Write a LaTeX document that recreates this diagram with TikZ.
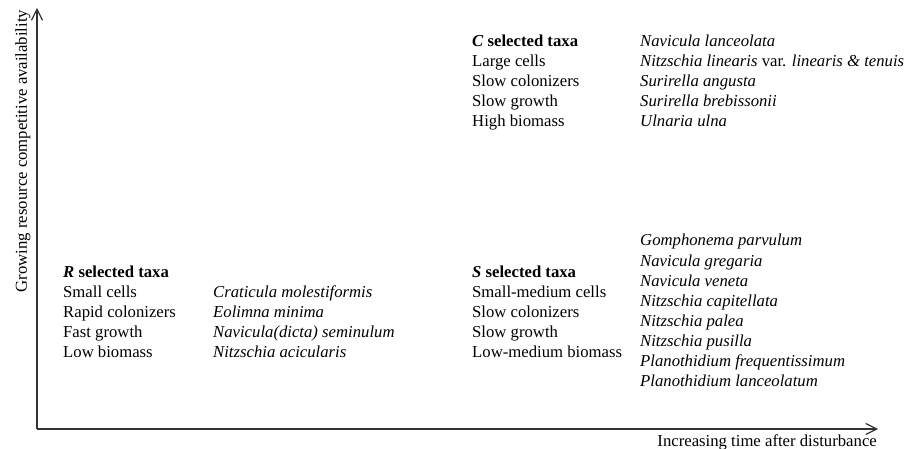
\documentclass[tikz,border=0pt]{standalone}
\usepackage{fontspec}
\setmainfont{Liberation Serif}
\usetikzlibrary{arrows.meta}
\begin{document}
\begin{tikzpicture}[x=1pt,y=-1pt,
  txt/.style={anchor=base west,inner sep=0pt,font=\fontsize{16.7}{20}\selectfont},
  axis/.style={line width=1.2pt,draw=black!80,-{Straight Barb[length=11pt,width=11pt,line width=1.2pt]}}]
\useasboundingbox (0,0) rectangle (913,449);
\coordinate (O) at (37,429);
\coordinate (Ytip) at (37,8);
\coordinate (Xtip) at (878,429);
\draw[axis] (O) -- (Ytip);
\draw[axis] (O) -- (Xtip);
\node[inner sep=0pt,rotate=90,anchor=base,font=\fontsize{16.7}{20}\selectfont] (ylab) at (27,151) {Growing resource competitive availability};
\node[inner sep=0pt,anchor=base east,font=\fontsize{16.7}{20}\selectfont] (xlab) at (877,446) {Increasing time after disturbance};
% R block
\node[txt] (r0) at (63,277) {\textbf{\textit{R} selected taxa}};
\node[txt] (r1) at (63,297) {Small cells};
\node[txt] (r2) at (63,317) {Rapid colonizers};
\node[txt] (r3) at (63,337) {Fast growth};
\node[txt] (r4) at (63,357) {Low biomass};
\node[txt] (rs1) at (213,297) {\textit{Craticula molestiformis}};
\node[txt] (rs2) at (213,317) {\textit{Eolimna minima}};
\node[txt] (rs3) at (213,337) {\textit{Navicula(dicta) seminulum}};
\node[txt] (rs4) at (213,357) {\textit{Nitzschia acicularis}};
% C block
\node[txt] (c0) at (472,47) {\textbf{\textit{C} selected taxa}};
\node[txt] (c1) at (472,67) {Large cells};
\node[txt] (c2) at (472,87) {Slow colonizers};
\node[txt] (c3) at (472,107) {Slow growth};
\node[txt] (c4) at (472,127) {High biomass};
\node[txt] (cs1) at (640,47) {\textit{Navicula lanceolata}};
\node[txt] (cs2) at (640,67) {\textit{Nitzschia linearis} var. \textit{linearis \& tenuis}};
\node[txt] (cs3) at (640,87) {\textit{Surirella angusta}};
\node[txt] (cs4) at (640,107) {\textit{Surirella brebissonii}};
\node[txt] (cs5) at (640,127) {\textit{Ulnaria ulna}};
% S block
\node[txt] (s0) at (472,277) {\textbf{\textit{S} selected taxa}};
\node[txt] (s1) at (472,297) {Small-medium cells};
\node[txt] (s2) at (472,317) {Slow colonizers};
\node[txt] (s3) at (472,337) {Slow growth};
\node[txt] (s4) at (472,357) {Low-medium biomass};
\node[txt] (ss1) at (640,246) {\textit{Gomphonema parvulum}};
\node[txt] (ss2) at (640,266) {\textit{Navicula gregaria}};
\node[txt] (ss3) at (640,286) {\textit{Navicula veneta}};
\node[txt] (ss4) at (640,306) {\textit{Nitzschia capitellata}};
\node[txt] (ss5) at (640,326) {\textit{Nitzschia palea}};
\node[txt] (ss6) at (640,346) {\textit{Nitzschia pusilla}};
\node[txt] (ss7) at (640,366) {\textit{Planothidium frequentissimum}};
\node[txt] (ss8) at (640,386) {\textit{Planothidium lanceolatum}};
\end{tikzpicture}
\end{document}
